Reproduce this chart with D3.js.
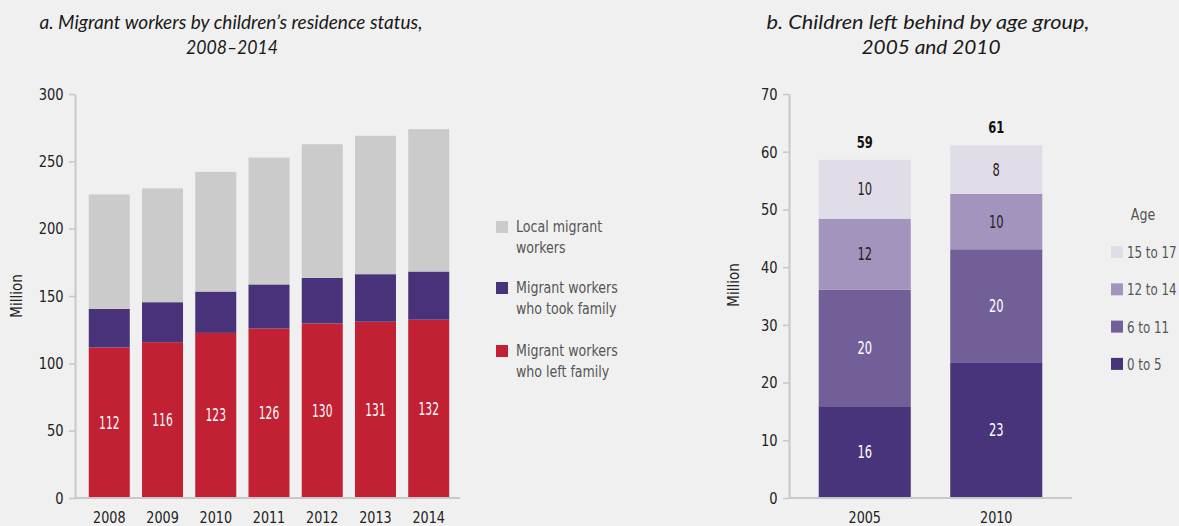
<!DOCTYPE html>
<html><head><meta charset="utf-8">
<script src="https://cdn.jsdelivr.net/npm/d3@7"></script>
<style>
html,body{margin:0;padding:0;background:#f0f0f0;}
svg{display:block;}
.t{font-family:"DejaVu Sans Condensed","Liberation Sans Narrow",sans-serif;}
.title{font-family:"Lato","Open Sans",sans-serif;font-style:italic;font-size:20px;fill:#1a1a1a;}
</style></head>
<body>
<svg id="c" width="1179" height="526"></svg>
<script>
// Panel a data (million)
const yearsA = ["2008","2009","2010","2011","2012","2013","2014"];
const leftFamily = [111.8, 115.7, 122.6, 125.8, 129.6, 130.9, 132.4];
const tookFamily = [28.6, 29.7, 30.7, 32.8, 33.8, 35.3, 35.8];
const localMigrant = [85.0, 84.5, 88.9, 94.2, 99.3, 102.8, 105.7];
const leftFamilyLabels = ["112","116","123","126","130","131","132"];
const ticksA = [0,50,100,150,200,250,300];
const seriesA = ["Migrant workers who left family","Migrant workers who took family","Local migrant workers"];

// Panel b data (million)
const yearsB = ["2005","2010"];
const age0to5 = [15.9, 23.4];
const age6to11 = [20.2, 19.7];
const age12to14 = [12.3, 9.6];
const age15to17 = [10.2, 8.4];
const labelsB = [["16","20","12","10"],["23","20","10","8"]];
const totalsB = ["59","61"];
const ticksB = [0,10,20,30,40,50,60,70];
const ageGroups = ["0 to 5","6 to 11","12 to 14","15 to 17"];

const svg = d3.select("#c");
const axisCol = "#c8c8c8";
const tickTextCol = "#222";

// condensed text helper
function ctext(parent, x, y, str, o) {
  o = o || {};
  return parent.append("text").attr("class","t")
    .attr("transform",`translate(${x},${y}) scale(${o.sx||0.87},1)${o.rot?" rotate(-90)":""}`)
    .attr("text-anchor",o.anchor||"start")
    .attr("fill",o.fill||"#555")
    .style("font-size",(o.size||16)+"px")
    .style("font-weight",o.weight||"normal")
    .text(str);
}

function drawAxes(g, x, y, ticks, x0, x1) {
  const ya = g.append("g").attr("transform",`translate(${x0},0)`)
    .call(d3.axisLeft(y).tickValues(ticks).tickSize(6).tickPadding(7).tickSizeOuter(0));
  ya.select(".domain").attr("stroke",axisCol).attr("stroke-width",2);
  ya.selectAll(".tick line").attr("stroke",axisCol).attr("stroke-width",1.5);
  ya.selectAll(".tick text").attr("class","t").attr("fill",tickTextCol).style("font-size","16.5px")
    .attr("transform","scale(0.88,1)");
  const xa = g.append("g").attr("transform",`translate(0,${y(0)})`)
    .call(d3.axisBottom(x).tickSize(0).tickPadding(13));
  xa.select(".domain").attr("stroke",axisCol).attr("stroke-width",2).attr("d",`M${x0},0H${x1}`);
  xa.selectAll(".tick text").attr("class","t").attr("fill",tickTextCol).style("font-size","16.5px")
    .attr("transform","scale(0.86,1)");
}

// ---------- Panel a ----------
{
  const g = svg.append("g");
  const x = d3.scaleBand().domain(yearsA).range([76,462]).paddingInner(0.23).paddingOuter(0.24);
  const y = d3.scaleLinear().domain([0,300]).range([498,94]);
  const rows = yearsA.map((yr,i)=>({year:yr, i, a:leftFamily[i], b:tookFamily[i], c:localMigrant[i]}));
  const stack = d3.stack().keys(["a","b","c"])(rows);
  const colsA = ["#c22033","#48337a","#cbcbcb"];
  g.selectAll("g.s").data(stack).join("g").attr("fill",(d,i)=>colsA[i])
    .selectAll("rect").data(d=>d).join("rect")
    .attr("x",d=>x(d.data.year)).attr("width",x.bandwidth())
    .attr("y",d=>y(d[1])).attr("height",d=>y(d[0])-y(d[1]));
  rows.forEach(d=>{
    ctext(g, x(d.year)+x.bandwidth()/2, y(d.a/2)+6, leftFamilyLabels[d.i], {anchor:"middle",fill:"#fff",size:17,sx:0.7});
  });
  drawAxes(g,x,y,ticksA,75,460);
  ctext(g, 22, 296, "Million", {anchor:"middle",fill:tickTextCol,size:15,sx:1,rot:true});
  const tA = g.append("text").attr("class","title").attr("text-anchor","middle");
  tA.append("tspan").attr("x",231).attr("y",29).attr("textLength",383).attr("lengthAdjust","spacingAndGlyphs")
    .text("a. Migrant workers by children\u2019s residence status,");
  tA.append("tspan").attr("x",232).attr("y",54).attr("textLength",92).attr("lengthAdjust","spacingAndGlyphs")
    .text("2008\u20132014");
  // legend
  const legA = [
    {c:colsA[2], l:["Local migrant","workers"], y:221},
    {c:colsA[1], l:["Migrant workers","who took family"], y:282},
    {c:colsA[0], l:["Migrant workers","who left family"], y:345}
  ];
  legA.forEach(d=>{
    g.append("rect").attr("x",496).attr("y",d.y).attr("width",12).attr("height",12).attr("fill",d.c);
    d.l.forEach((s,k)=>ctext(g, 516, d.y+11+k*21, s, {size:16.5,sx:0.85}));
  });
}

// ---------- Panel b ----------
{
  const g = svg.append("g");
  const x = d3.scaleBand().domain(yearsB).range([789,1072]).paddingInner(0.30).paddingOuter(0.226);
  const y = d3.scaleLinear().domain([0,70]).range([498,94]);
  const rows = yearsB.map((yr,i)=>({year:yr, i, a:age0to5[i], b:age6to11[i], c:age12to14[i], d:age15to17[i]}));
  const stack = d3.stack().keys(["a","b","c","d"])(rows);
  const colsB = ["#48347a","#735f97","#a294bc","#e0dce8"];
  const txtB = ["#fff","#fff","#222","#222"];
  stack.forEach((s,k)=>{
    g.append("g").attr("fill",colsB[k]).selectAll("rect").data(s).join("rect")
      .attr("x",d=>x(d.data.year)).attr("width",x.bandwidth())
      .attr("y",d=>y(d[1])).attr("height",d=>y(d[0])-y(d[1]));
    s.forEach(d=>{
      ctext(g, x(d.data.year)+x.bandwidth()/2, y((d[0]+d[1])/2)+6, labelsB[d.data.i][k],
        {anchor:"middle",fill:txtB[k],size:17,sx:0.75});
    });
  });
  rows.forEach(d=>{
    ctext(g, x(d.year)+x.bandwidth()/2, y(d.a+d.b+d.c+d.d)-12, totalsB[d.i],
      {anchor:"middle",fill:"#111",size:16,sx:0.8,weight:"bold"});
  });
  drawAxes(g,x,y,ticksB,789,1072);
  ctext(g, 739, 285, "Million", {anchor:"middle",fill:tickTextCol,size:15,sx:1,rot:true});
  const tB = g.append("text").attr("class","title").attr("text-anchor","middle");
  tB.append("tspan").attr("x",928).attr("y",29).attr("textLength",323).attr("lengthAdjust","spacingAndGlyphs")
    .text("b. Children left behind by age group,");
  tB.append("tspan").attr("x",931).attr("y",54).attr("textLength",139).attr("lengthAdjust","spacingAndGlyphs")
    .text("2005 and 2010");
  ctext(g, 1143, 220, "Age", {anchor:"middle",size:16.5,sx:0.85});
  const legB = ageGroups.map((l,k)=>({l,c:colsB[k]})).reverse();
  legB.forEach((d,k)=>{
    g.append("rect").attr("x",1111).attr("y",246+k*37.3).attr("width",12).attr("height",12).attr("fill",d.c);
    ctext(g, 1127, 246+k*37.3+12, d.l, {size:16.5,sx:0.8});
  });
}
</script>
</body></html>
